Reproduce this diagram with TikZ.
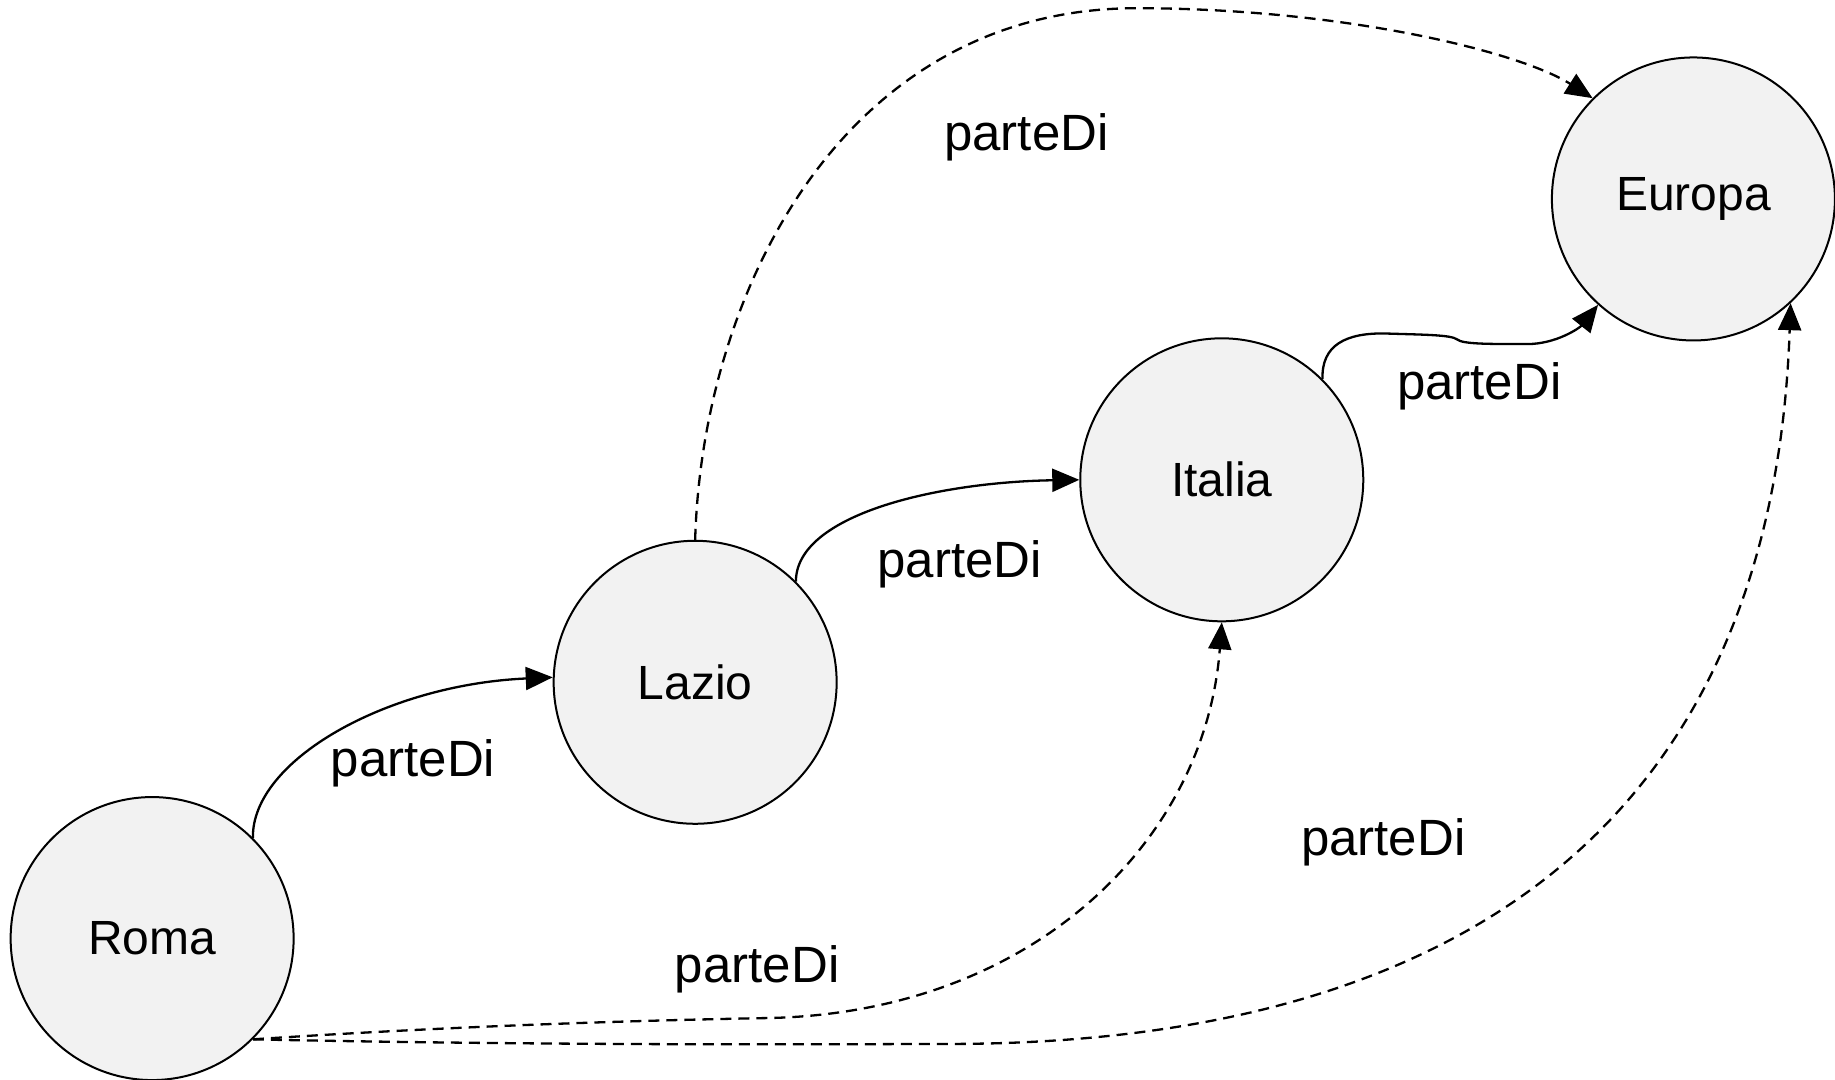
\documentclass[tikz,border=0pt]{standalone}
\usepackage{fontspec}
\setmainfont{Liberation Sans}
\usetikzlibrary{arrows.meta}
\definecolor{placefill}{RGB}{242,242,242}
\begin{document}
\begin{tikzpicture}[x=1.1703pt,y=-1.1703pt,
  place/.style={circle,draw,line width=2pt,fill=placefill,minimum size=283pt,
    inner sep=0pt,font=\fontsize{48}{57}\selectfont},
  rel/.style={line width=2.3pt,-{Triangle[length=27pt,width=23pt]}},
  derived/.style={rel,dash pattern=on 11pt off 7pt},
  lbl/.style={font=\fontsize{51}{60}\selectfont}]
\useasboundingbox (0,0) rectangle (1568,922);

% places
\node[place] (roma)   at (130,802)  {Roma};
\node[place] (lazio)  at (594,583)  {Lazio};
\node[place] (italia) at (1044,410) {Italia};
\node[place] (europa) at (1447,170) {Europa};

% direct relations
\draw[rel] (roma.45) .. controls (215,650) and (330,585) .. (lazio.178.5);
\draw[rel] (lazio.45) .. controls (680,440) and (800,412) .. (italia.180);
\draw[rel] (italia.45) .. controls (1129,295) and (1150,284) .. (1185,285)
  .. controls (1215,286) and (1240,286) .. (1245,290)
  .. controls (1250,294) and (1270,294) .. (1305,294)
  .. controls (1330,294) and (1350,280) .. (europa.228);

% derived relations
\draw[derived] (lazio.90) .. controls (600,250) and (720,8) .. (970,7)
  .. controls (1150,7) and (1300,45) .. (europa.135);
\draw[derived] (roma.-45) .. controls (400,876) and (550,872) .. (650,870)
  .. controls (880,868) and (1030,720) .. (italia.270);
\draw[derived] (roma.-45) .. controls (400,892) and (600,893) .. (800,892)
  .. controls (1250,895) and (1515,700) .. (europa.313);

% labels
\node[lbl] (l1) at (353,652)  {parteDi};
\node[lbl] (l2) at (820,482)  {parteDi};
\node[lbl] (l3) at (1264,330) {parteDi};
\node[lbl] (l4) at (877,117)  {parteDi};
\node[lbl] (l5) at (647,828)  {parteDi};
\node[lbl] (l6) at (1182,720) {parteDi};
\end{tikzpicture}
\end{document}
